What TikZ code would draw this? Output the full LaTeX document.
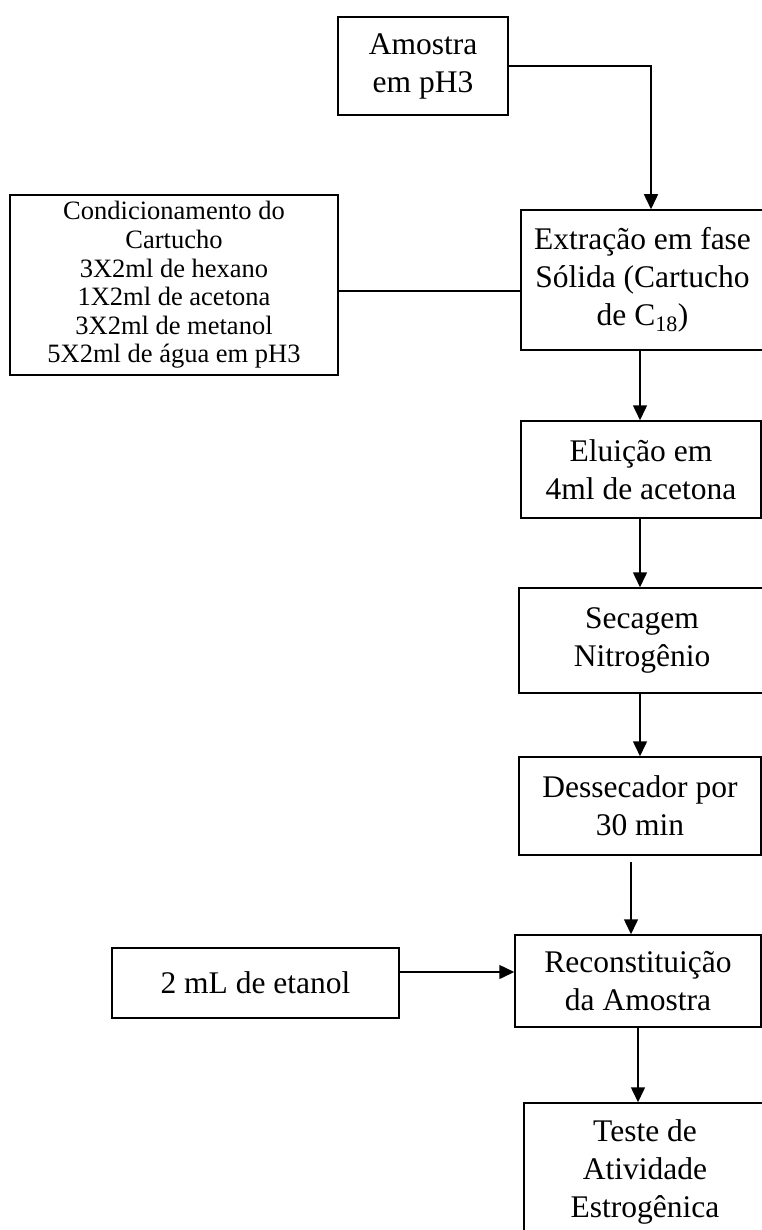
\documentclass[tikz,border=0pt]{standalone}
\usepackage{fontspec}
\setmainfont{Liberation Serif}
\usetikzlibrary{positioning,calc,arrows.meta}

\begin{document}
\begin{tikzpicture}[
    x=1pt, y=-1pt,
    stepbox/.style={draw, line width=1.5pt, inner sep=0pt, align=center, font=\fontsize{31.5}{38}\selectfont},
    notebox/.style={draw, line width=1.5pt, inner sep=0pt, align=center, font=\fontsize{26.5}{28.6}\selectfont},
    flow/.style={line width=1.5pt, -{Triangle[length=15pt,width=14pt]}},
    link/.style={line width=1.5pt}
]
    \clip (0,0) rectangle (762,1230);
    \fill[white] (0,0) rectangle (762,1230);

    % --- Main sequence (right column) ---
    \node[stepbox, minimum width=170pt, minimum height=98pt] (amostra) at (423,66) {Amostra\\em pH3};
    \node[stepbox, minimum width=243pt, minimum height=140pt] (extracao) at (642.5,280) {Extração em fase\\Sólida (Cartucho\\de C\textsubscript{18})};
    \node[stepbox, minimum width=240pt, minimum height=97pt] (eluicao) at (641,469.5) {Eluição em\\4ml de acetona};
    \node[stepbox, minimum width=246pt, minimum height=105pt] (secagem) at (642,640.5) {Secagem\\Nitrogênio};
    \node[stepbox, minimum width=242pt, minimum height=98pt] (dessecador) at (640,806) {Dessecador por\\30 min};
    \node[stepbox, minimum width=246pt, minimum height=92pt] (recons) at (638,981) {Reconstituição\\da Amostra};
    \node[stepbox, minimum width=242pt, minimum height=138pt] (teste) at (645,1172) {Teste de\\Atividade\\Estrogênica};

    % --- Side inputs (left column) ---
    \node[notebox, minimum width=328pt, minimum height=180pt] (cond) at (174,285) {Condicionamento do\\Cartucho\\3X2ml de hexano\\1X2ml de acetona\\3X2ml de metanol\\5X2ml de água em pH3};
    \node[stepbox, minimum width=287pt, minimum height=70pt] (etanol) at (255.5,983) {2 mL de etanol};

    % --- Connectors ---
    \draw[flow] (amostra.east) -| ([xshift=8.5pt]extracao.north);
    \draw[link] ([yshift=-6pt]cond.east) -- ([yshift=-6pt]cond.east -| extracao.west);
    \draw[flow] ([xshift=-2.5pt]extracao.south) -- ([xshift=-2.5pt]extracao.south |- eluicao.north);
    \draw[flow] ([xshift=-1pt]eluicao.south) -- ([xshift=-1pt]eluicao.south |- secagem.north);
    \draw[flow] ([xshift=-2pt]secagem.south) -- ([xshift=-2pt]secagem.south |- dessecador.north);
    \draw[flow] ([xshift=-9pt,yshift=-6pt]dessecador.south) -- ([xshift=-7pt]recons.north);
    \draw[flow] ([yshift=11pt]etanol.east) -- ([yshift=11pt]etanol.east -| recons.west);
    \draw[flow] (recons.south) -- (recons.south |- teste.north);
\end{tikzpicture}
\end{document}
